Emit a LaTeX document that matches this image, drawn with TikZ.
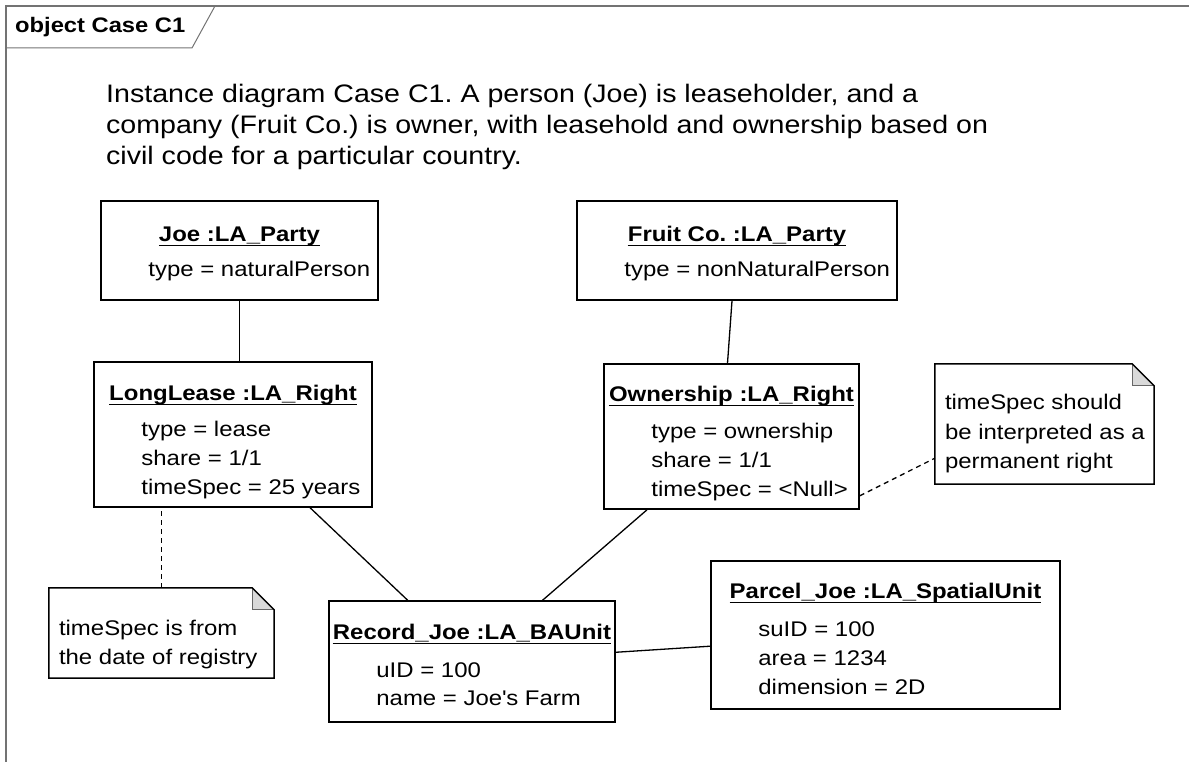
\documentclass[tikz,border=0pt]{standalone}
\usepackage{fontspec}
\setmainfont{Liberation Sans}[FakeStretch=1.13]
\usetikzlibrary{calc}
\newcommand\objfont{\fontsize{21.2}{28.7}\selectfont}
\newcommand\descfont{\fontsize{25.3}{31}\selectfont}
\newcommand\notefont{\fontsize{21.2}{29.5}\selectfont}
\frenchspacing

\begin{document}
\begin{tikzpicture}[
    x=1pt, y=-1pt,
    frame/.style={draw=black!55, line width=1.3pt},
    obj/.style={draw, line width=1.6pt, inner sep=0pt},
    head/.style={inner sep=0pt, font=\objfont\bfseries, anchor=base},
    attr/.style={inner sep=0pt, font=\objfont, align=left, anchor=base west},
    note/.style={inner sep=0pt},
    notetext/.style={inner sep=0pt, font=\notefont, align=left, anchor=base west},
    ul/.style={line width=1.4pt},
    link/.style={line width=1.3pt},
    noteline/.style={line width=1.3pt, dash pattern=on 5pt off 4pt}
  ]
    \useasboundingbox (0,0) rectangle (1189,762);

    % frame and tab
    \draw[frame] (6,762) -- (6,6) -- (1189,6);
    \draw[frame, line width=1pt] (6,48) -- (192,48) -- (215,6);
    \node[inner sep=0pt, anchor=base west, font=\fontsize{21}{24}\selectfont\bfseries] (tab) at (15,33) {object Case C1};

    % base of a multi-line node is its last line
    \node[inner sep=0pt, anchor=base west, align=left, font=\descfont] (desc) at (106,165)
      {Instance diagram Case C1. A person (Joe) is leaseholder, and a\\
       company (Fruit Co.) is owner, with leasehold and ownership based on\\
       civil code for a particular country.};

    % objects
    \node[obj, minimum width=277, minimum height=99] (joe) at (239.5,250.5) {};
    \node[obj, minimum width=320, minimum height=99] (fruit) at (737,250.5) {};
    \node[obj, minimum width=278, minimum height=145] (lease) at (233,434.5) {};
    \node[obj, minimum width=255, minimum height=145] (owner) at (731.5,436.5) {};
    \node[obj, minimum width=286, minimum height=121] (record) at (472,661.5) {};
    \node[obj, minimum width=349, minimum height=148] (parcel) at (885.5,635) {};

    \node[head] (joe-h) at ($(joe.north)+(0,41)$) {Joe :LA\_Party};
    \node[attr] (joe-a) at ($(joe.north west)+(48,76)$) {type = naturalPerson};
    \node[head] (fruit-h) at ($(fruit.north)+(0,41)$) {Fruit Co. :LA\_Party};
    \node[attr] (fruit-a) at ($(fruit.north west)+(48,76)$) {type = nonNaturalPerson};
    \node[head] (lease-h) at ($(lease.north)+(0,39)$) {LongLease :LA\_Right};
    \node[attr] (lease-a) at ($(lease.north west)+(48,133)$) {type = lease\\share = 1/1\\timeSpec = 25 years};
    \node[head] (owner-h) at ($(owner.north)+(0,38)$) {Ownership :LA\_Right};
    \node[attr] (owner-a) at ($(owner.north west)+(48,133)$) {type = ownership\\share = 1/1\\timeSpec = <Null>};
    \node[head] (record-h) at ($(record.north)+(0,39)$) {Record\_Joe :LA\_BAUnit};
    \node[attr] (record-a) at ($(record.north west)+(48,105.5)$) {uID = 100\\name = Joe\textquotesingle s Farm};
    \node[head] (parcel-h) at ($(parcel.north)+(0,38)$) {Parcel\_Joe :LA\_SpatialUnit};
    \node[attr] (parcel-a) at ($(parcel.north west)+(48,134)$) {suID = 100\\area = 1234\\dimension = 2D};

    \foreach \n in {joe,fruit,lease,owner,record,parcel}
      \draw[ul] ([yshift=-4.5pt]\n-h.base west) -- ([yshift=-4.5pt]\n-h.base east);

    % notes
    \node[note, minimum width=225, minimum height=90] (note1) at (161.5,633) {};
    \node[note, minimum width=219, minimum height=120] (note2) at (1044.5,424) {};
    \foreach \n in {note1,note2} {
      \fill[black!15] ([xshift=-22pt]\n.north east) -- ([xshift=-22pt,yshift=-22pt]\n.north east) -- ([yshift=-22pt]\n.north east) -- cycle;
      \draw[black!60, line width=0.8pt] ([xshift=-22pt]\n.north east) -- ([xshift=-22pt,yshift=-22pt]\n.north east) -- ([yshift=-22pt]\n.north east);
      \draw[line width=1.5pt] (\n.north west) -- ([xshift=-22pt]\n.north east) -- ([yshift=-22pt]\n.north east) -- (\n.south east) -- (\n.south west) -- cycle;
    }
    \node[notetext] (note1-t) at ($(note1.north west)+(10,77)$) {timeSpec is from\\the date of registry};
    \node[notetext] (note2-t) at ($(note2.north west)+(10,105)$) {timeSpec should\\be interpreted as a\\permanent right};

    % links
    \draw[link] (joe.south) -- (joe.south |- lease.north);
    \draw[link] ([xshift=-5pt]fruit.south) -- ([xshift=-4pt]owner.north);
    \draw[link] (lease) -- (record);
    \draw[link] (owner) -- (record);
    \draw[link] (record) -- (parcel);
    \draw[noteline] (note1.north) -- (note1.north |- lease.south);
    \draw[noteline] ([yshift=14pt]owner.south east) -- ([yshift=26pt]note2.south west);
  \end{tikzpicture}
\end{document}
